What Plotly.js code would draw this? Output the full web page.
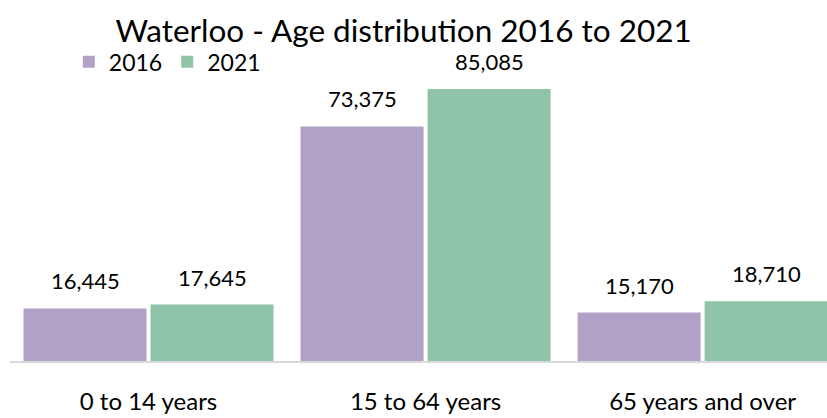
<!DOCTYPE html>
<html>
<head>
<meta charset="utf-8">
<script src="https://cdn.plot.ly/plotly-3.0.1.min.js"></script>
<style>html,body{margin:0;padding:0;background:#fff;}#chart{width:827px;height:418px;}</style>
</head>
<body>
<div id="chart"></div>
<script>
const categories = ["0 to 14 years", "15 to 64 years", "65 years and over"];
const series2016 = [16445, 73375, 15170];
const series2021 = [17645, 85085, 18710];
const seriesNames = ["2016", "2021"];
const colors = ["#b2a1c7", "#8fc4a8"];

const FONT = "Lato, 'Open Sans', sans-serif";
const fmt = v => v.toLocaleString("en-US");

const traces = [series2016, series2021].map((vals, i) => ({
  type: "bar",
  name: seriesNames[i],
  x: categories,
  y: vals,
  marker: {color: colors[i]},
  hoverinfo: "skip"
}));

const plotW = 817, xr = [-0.5, 2.449];
const pxPerCat = plotW / (xr[1] - xr[0]);
const bargap = 0.083, bargroupgap = 0.0315;
const half = pxPerCat * (1 - bargap) / 2;
const annotations = [];
[series2016, series2021].forEach((vals, i) => {
  vals.forEach((v, j) => {
    annotations.push({
      x: categories[j], y: v, xref: "x", yref: "y",
      text: fmt(v), showarrow: false,
      xshift: (i === 0 ? -1 : 1) * half / 2,
      yanchor: "bottom", yshift: 12,
      font: {family: FONT, size: 22, color: "#000"}
    });
  });
});

const layout = {
  width: 827, height: 418,
  margin: {l: 10, r: 0, t: 80, b: 57},
  paper_bgcolor: "#fff", plot_bgcolor: "#fff",
  font: {family: FONT, color: "#000"},
  title: {text: "Waterloo - Age distribution 2016 to 2021", x: 0.488, xanchor: "center",
          y: 0.925, yanchor: "middle", yref: "container", font: {family: FONT, size: 31.5, color: "#000"}},
  barmode: "group", bargap: bargap, bargroupgap: bargroupgap,
  showlegend: true,
  legend: {orientation: "h", x: 0.072, xanchor: "left", y: 1.065, yanchor: "middle",
           font: {family: FONT, size: 23, color: "#000"}, itemwidth: 30, bgcolor: "rgba(0,0,0,0)"},
  xaxis: {type: "category", range: xr, showline: true, linecolor: "#d9d9d9", linewidth: 2,
          ticks: "", showgrid: false, zeroline: false, ticklabelstandoff: 18,
          tickfont: {family: FONT, size: 24, color: "#000"}, fixedrange: true},
  yaxis: {range: [0, 87900], visible: false, showgrid: false, zeroline: false, fixedrange: true},
  annotations: annotations
};

Plotly.newPlot("chart", traces, layout, {displayModeBar: false, staticPlot: true});
</script>
</body>
</html>
